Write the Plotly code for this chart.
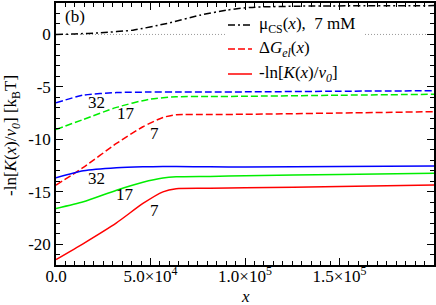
import plotly.graph_objects as go

# ---------------- data ----------------
x_mu = [0, 10000, 23300, 40700, 58700, 76200, 90400, 102600, 130000, 200000]
mu_cs = [0.0, 0.05, 0.16, 0.41, 1.05, 1.84, 2.32, 2.58, 2.70, 2.75]

x_g = [0, 14500, 32000, 49700, 63600, 81500, 100000, 150000, 200000]
dG_32 = [-6.52, -5.79, -5.55, -5.50, -5.50, -5.50, -5.48, -5.42, -5.37]
dG_17 = [-9.07, -8.11, -6.96, -6.17, -5.95, -5.93, -5.90, -5.80, -5.71]

x_r = [0, 14500, 32000, 46000, 56600, 63600, 81500, 100000, 150000, 200000]
dG_7 = [-14.38, -12.69, -10.40, -8.81, -7.92, -7.66, -7.64, -7.62, -7.50, -7.37]

lnK_32 = [-13.68, -13.01, -12.72, -12.63, -12.61, -12.61, -12.63, -12.64, -12.60, -12.55]
lnK_17 = [-16.61, -15.97, -14.86, -14.10, -13.70, -13.59, -13.55, -13.48, -13.36, -13.25]
lnK_7 = [-21.48, -19.95, -17.98, -16.13, -15.02, -14.72, -14.68, -14.64, -14.52, -14.37]

x_tickvals = [0, 50000, 100000, 150000]
x_ticktext = ["0.0", "5.0×10<sup>4</sup>", "1.0×10<sup>5</sup>", "1.5×10<sup>5</sup>"]
y_tickvals = [-20, -15, -10, -5, 0]
y_ticktext = ["-20", "-15", "-10", "-5", "0"]

labels_dashed = [("32", 21600, -6.51), ("17", 37100, -7.52), ("7", 52100, -9.43)]
labels_solid = [("32", 21600, -13.73), ("17", 36600, -15.32), ("7", 52100, -16.82)]

legend_texts = ["μ<sub>CS</sub>(<i>x</i>),  7 mM",
                "Δ<i>G<sub>el</sub></i>(<i>x</i>)",
                "-ln[<i>K</i>(<i>x</i>)/<i>v<sub>0</sub></i>]"]
x_title = "<i>x</i>"
y_title = "-ln[<i>K</i>(<i>x</i>)/<i>v<sub>0</sub></i>] [k<sub>B</sub>T]"

# ---------------- styles ----------------
FONT = "Liberation Serif, Times New Roman, serif"
FS = 17
RED, GREEN, BLUE = "#ff0000", "#00ee00", "#0000ff"
DASH = "7px,3px"
DASHDOT = "7px,3px,2px,3px"

W, H = 436, 305
L, R, T, B = 56, 2, 3, 40
pw, ph = W - L - R, H - T - B
def px(xp):
    return (xp - L) / pw
def py(yp):
    return 1 - (yp - T) / ph

fig = go.Figure()

# zero reference line (dotted gray)
fig.add_trace(go.Scatter(x=[0, 200000], y=[0, 0], mode="lines",
                         line=dict(color="#999999", width=1, dash="1px,2px"),
                         showlegend=False, hoverinfo="skip"))

def add(xs, ys, color, dash):
    fig.add_trace(go.Scatter(x=xs, y=ys, mode="lines",
                             line=dict(color=color, width=1.5, dash=dash, shape="spline", smoothing=0.6),
                             showlegend=False))

add(x_mu, mu_cs, "black", DASHDOT)
add(x_g, dG_32, BLUE, DASH)
add(x_g, dG_17, GREEN, DASH)
add(x_r, dG_7, RED, DASH)
add(x_r, lnK_32, BLUE, "solid")
add(x_r, lnK_17, GREEN, "solid")
add(x_r, lnK_7, RED, "solid")

def note(x, y, text, xref="paper", yref="paper", xanchor="center", angle=0):
    return dict(x=x, y=y, xref=xref, yref=yref, text=text, showarrow=False,
                xanchor=xanchor, yanchor="middle", textangle=angle,
                font=dict(family=FONT, size=FS, color="black"))

annotations = []
for t, xv, yv in labels_dashed + labels_solid:
    annotations.append(note(xv, yv, t, xref="x", yref="y"))

annotations.append(note(px(75), py(17), "(b)"))
annotations.append(note(px(245), py(296), x_title))
annotations.append(note(px(12), py(136), y_title, angle=-90))

# custom legend (white box, line samples and texts)
shapes = [dict(type="rect", xref="paper", yref="paper", x0=px(226), x1=px(363), y0=py(86), y1=py(13),
               fillcolor="white", line=dict(width=0), layer="above")]
leg_styles = [("black", DASHDOT), (RED, DASH), (RED, "solid")]
leg_y = [25, 49, 74]
for (c, d), yy, txt in zip(leg_styles, leg_y, legend_texts):
    shapes.append(dict(type="line", xref="paper", yref="paper", x0=px(228), x1=px(252),
                       y0=py(yy), y1=py(yy), line=dict(color=c, width=1.5, dash=d), layer="above"))
    annotations.append(note(px(257), py(yy), txt, xanchor="left"))

axis_common = dict(ticks="inside", ticklen=7, tickwidth=1, tickcolor="black",
                   showline=True, linecolor="black", linewidth=1.5, mirror="allticks",
                   showgrid=False, zeroline=False, automargin=False,
                   tickfont=dict(family=FONT, size=FS, color="black"))

fig.update_layout(
    width=W, height=H,
    margin=dict(l=L, r=R, t=T, b=B, autoexpand=False),
    paper_bgcolor="white", plot_bgcolor="white",
    font=dict(family=FONT, size=FS, color="black"),
    showlegend=False,
    annotations=annotations,
    shapes=shapes,
    xaxis=dict(range=[0, 200000], tickvals=x_tickvals, ticktext=x_ticktext, ticklabelstandoff=-5,
               minor=dict(ticks="inside", ticklen=4, dtick=5000, tick0=0, tickcolor="black", showgrid=False),
               **axis_common),
    yaxis=dict(range=[-22, 3], tickvals=y_tickvals, ticktext=y_ticktext,
               minor=dict(ticks="inside", ticklen=4, dtick=1, tick0=0, tickcolor="black", showgrid=False),
               **axis_common),
)

fig.write_html("out.html", config={"displayModeBar": False},
               post_script="document.body.style.margin='0';document.body.style.padding='0';")
